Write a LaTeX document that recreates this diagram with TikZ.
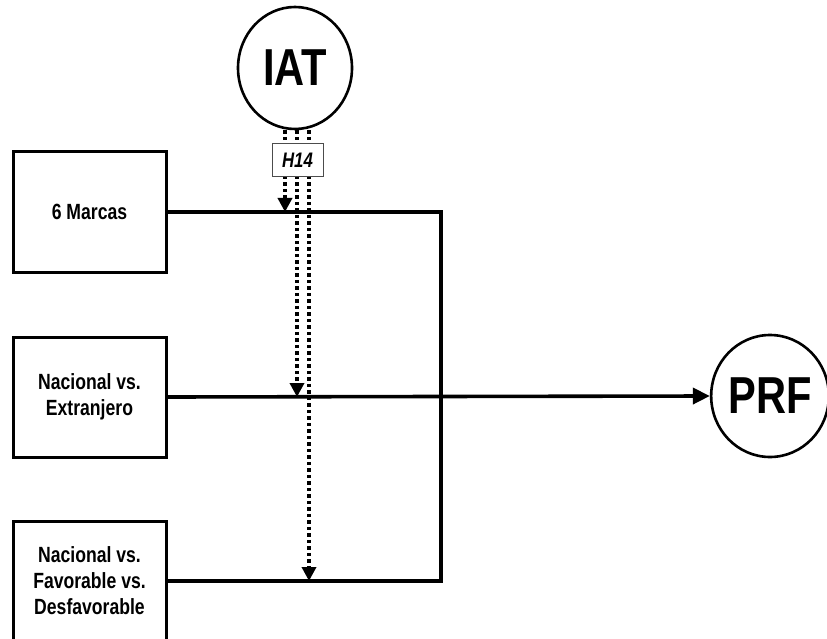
\documentclass[tikz,border=0pt]{standalone}
\usepackage{fontspec}
\setmainfont{Liberation Sans}[FakeStretch=0.8]
\usepackage{tikz}
\usetikzlibrary{positioning, arrows.meta, shapes.geometric}
\tikzset{
  every node/.style={font=\bfseries},
  factor/.style={
    rectangle, draw=black, line width=3pt, fill=white,
    minimum width=153pt, minimum height=120pt, align=center,
    inner sep=0pt, font=\fontsize{22}{26}\selectfont\bfseries
  },
  latent/.style={
    ellipse, draw=black, line width=2.6pt, fill=white,
    minimum width=114pt, minimum height=122pt, inner sep=0pt,
    font=\fontsize{52}{52}\selectfont\bfseries
  },
  hyplabel/.style={
    rectangle, draw=black!70, line width=1pt, fill=white,
    minimum width=51pt, minimum height=33pt, inner sep=0pt,
    font=\fontsize{21}{21}\selectfont\bfseries\itshape
  },
  mainarrow/.style={line width=3.6pt, -{Triangle[length=17pt, width=16pt]}},
  mainline/.style={line width=3.6pt},
  modarrow/.style={line width=3.4pt, dash pattern=on 3.5pt off 3pt,
    -{Triangle[length=14pt, width=14pt]}}
}

\begin{document}
\begin{tikzpicture}[x=1pt, y=-1pt]
\clip (0,0) rectangle (827,639);

% Predictor boxes
\node[factor] (marcas) at (89.5,212) {6 Marcas};
\node[factor] (origen) at (89.5,397) {Nacional vs.\\Extranjero};
\node[factor] (valencia) at (89.5,581) {Nacional vs.\\Favorable vs.\\Desfavorable};

% Moderator and outcome
\node[latent] (iat) at (295,68) {IAT};
\node[latent, minimum width=112pt] (prf) at (770,396) {PRF};

% Corners of the collecting line
\coordinate (esq1) at (441,212);
\coordinate (esq3) at (441,581);

% Edges - predictors to outcome
\draw[mainline] (marcas.east) -- (esq1) -- (esq3) -- (valencia.east);
\draw[mainarrow] (origen.east) -- (prf.west);

% Moderation edges
\draw[modarrow] ([xshift=-10pt]iat.south) -- ([xshift=-10pt]iat.south |- marcas.east);
\draw[modarrow] ([xshift=2pt]iat.south) -- ([xshift=2pt]iat.south |- origen.east);
\draw[modarrow] ([xshift=14pt]iat.south) -- ([xshift=14pt]iat.south |- valencia.east);

\node[hyplabel] (h14) at (297.5,160.5) {H14};

\end{tikzpicture}
\end{document}
